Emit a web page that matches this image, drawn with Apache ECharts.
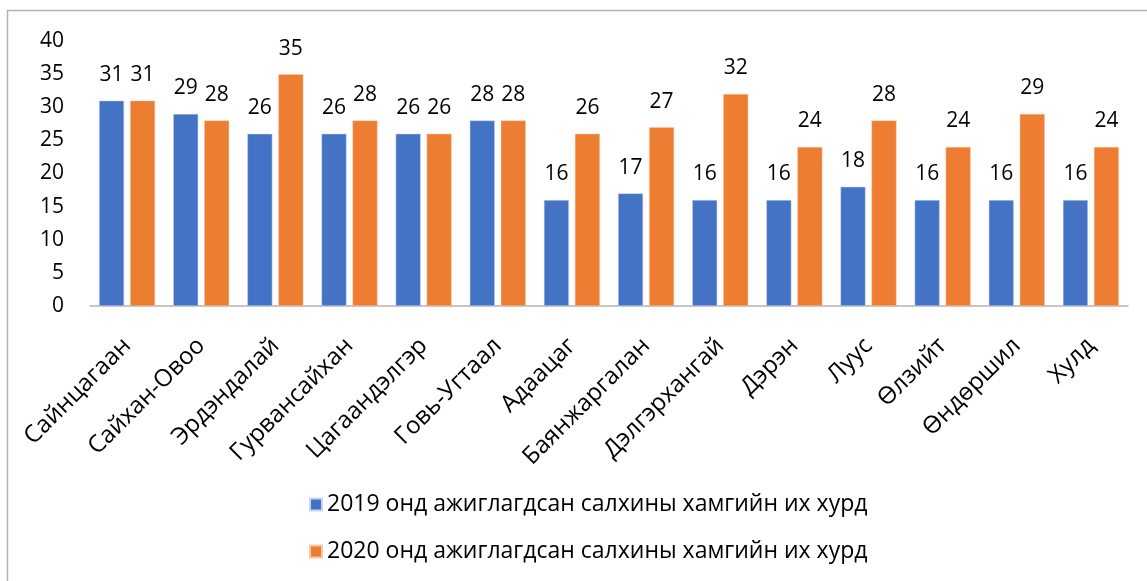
<!DOCTYPE html>
<html>
<head>
<meta charset="utf-8">
<script src="https://cdn.jsdelivr.net/npm/echarts@6/dist/echarts.min.js"></script>
<style>
  html, body { margin: 0; padding: 0; background: #fff; }
  #chart { width: 1147px; height: 581px; }
</style>
</head>
<body>
<div id="chart"></div>
<script>
// sums / places
var places = ['Сайнцагаан', 'Сайхан-Овоо', 'Эрдэндалай', 'Гурвансайхан', 'Цагаандэлгэр', 'Говь-Угтаал',
  'Адаацаг', 'Баянжаргалан', 'Дэлгэрхангай', 'Дэрэн', 'Луус', 'Өлзийт', 'Өндөршил', 'Хулд'];
var speed2019 = [31, 29, 26, 26, 26, 28, 16, 17, 16, 16, 18, 16, 16, 16];
var speed2020 = [31, 28, 35, 28, 26, 28, 26, 27, 32, 24, 28, 24, 29, 24];
var seriesNames = ['2019 онд ажиглагдсан салхины хамгийн их хурд', '2020 онд ажиглагдсан салхины хамгийн их хурд'];

var font = 'Open Sans, Noto Sans, sans-serif';

var myChart = echarts.init(document.getElementById('chart'));

var option = {
  animation: false,
  textStyle: { fontFamily: font },
  graphic: [{
    type: 'rect',
    shape: { x: 7.5, y: 10.5, width: 1160, height: 600 },
    style: { fill: 'none', stroke: '#b4b4b4', lineWidth: 1.5 },
    silent: true
  }],
  grid: { left: 90, right: 19, top: 41, bottom: 275 },
  legend: {
    orient: 'vertical',
    left: 304,
    top: 488,
    itemWidth: 12,
    itemHeight: 12,
    itemGap: 24,
    icon: 'rect',
    textStyle: { fontFamily: font, fontSize: 23, color: '#000' },
    data: seriesNames
  },
  xAxis: {
    type: 'category',
    data: places,
    axisLine: { lineStyle: { color: '#b4b4b4', width: 1.5 } },
    axisTick: { show: false },
    axisLabel: { rotate: 45, fontSize: 24, color: '#000', fontFamily: font, margin: 36, interval: 0 }
  },
  yAxis: {
    type: 'value',
    min: 0,
    max: 40,
    interval: 5,
    splitLine: { show: false },
    axisLine: { show: false },
    axisLabel: { fontSize: 21, color: '#000', fontFamily: font, margin: 26 }
  },
  series: [{
    name: seriesNames[0],
    type: 'bar',
    data: speed2019,
    barWidth: 25,
    barGap: '24%',
    itemStyle: { color: '#4472C4', borderColor: '#c9d6ee', borderWidth: 0.5 },
    label: { show: true, position: 'top', distance: 15, fontSize: 21, color: '#000', fontFamily: font }
  }, {
    name: seriesNames[1],
    type: 'bar',
    data: speed2020,
    barWidth: 25,
    itemStyle: { color: '#ED7D31', borderColor: '#f6c9ab', borderWidth: 0.5 },
    label: { show: true, position: 'top', distance: 15, fontSize: 21, color: '#000', fontFamily: font }
  }]
};

myChart.setOption(option);
</script>
</body>
</html>
